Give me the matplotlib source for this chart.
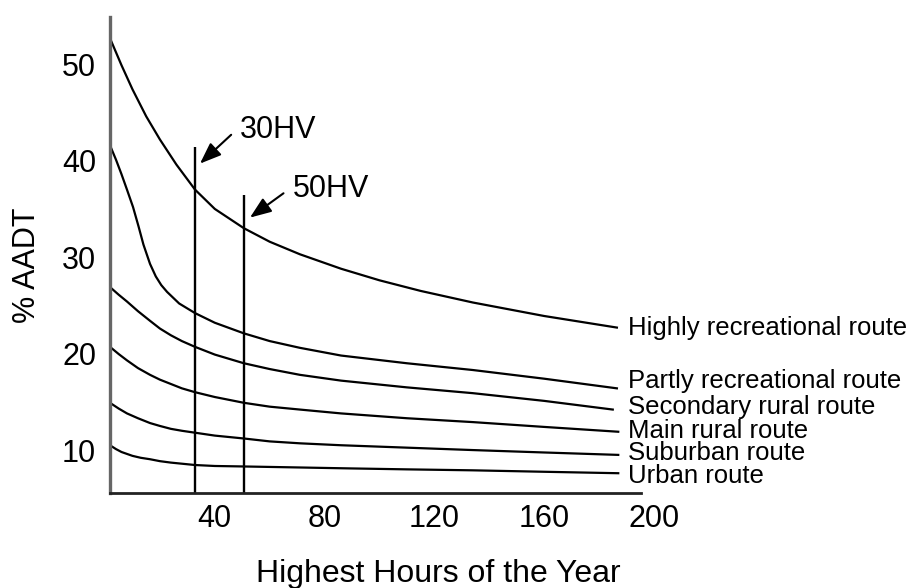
import matplotlib
matplotlib.use("Agg")
import matplotlib.pyplot as plt

plt.rcParams['font.family'] = ['Liberation Sans', 'DejaVu Sans']

## curves (hours, % AADT)
highly_x = [1.8, 6, 10, 15, 20, 26, 32.8, 40, 50.6, 60, 71, 86, 100, 115, 134, 160, 186.5]
highly_y = [52.7, 49.9, 47.4, 44.6, 42.2, 39.6, 37.0, 35.0, 33.0, 31.6, 30.3, 28.8, 27.6, 26.5, 25.3, 23.9, 22.7]

partly_x = [1.8, 4, 6, 8, 10.2, 12.2, 14, 16.4, 18.5, 20.5, 22.6, 27, 32.8, 40, 50.6, 60, 71, 86, 110, 134, 160, 186.5]
partly_y = [41.6, 40.1, 38.6, 37.0, 35.2, 33.2, 31.3, 29.3, 28.0, 27.1, 26.4, 25.2, 24.2, 23.2, 22.1, 21.3, 20.6, 19.8, 19.0, 18.3, 17.4, 16.4]

second_x = [1.8, 5, 8, 12, 16.4, 20, 24, 28, 32.8, 40, 50.6, 60, 71, 86, 110, 134, 160, 185]
second_y = [26.9, 26.1, 25.4, 24.4, 23.4, 22.6, 21.9, 21.3, 20.7, 19.9, 19.0, 18.4, 17.8, 17.2, 16.5, 15.9, 15.1, 14.2]

main_x = [1.8, 5, 8, 12, 16.4, 20, 24, 28, 32.8, 40, 50.6, 60, 71, 86, 110, 134, 160, 187]
main_y = [20.7, 19.95, 19.3, 18.5, 17.8, 17.3, 16.85, 16.4, 16.0, 15.5, 14.9, 14.5, 14.2, 13.8, 13.3, 12.9, 12.4, 11.9]

suburban_x = [1.8, 5, 8, 12, 16.4, 20, 24, 28, 32.8, 40, 50.6, 60, 71, 86, 110, 134, 160, 187]
suburban_y = [14.9, 14.3, 13.8, 13.3, 12.8, 12.5, 12.2, 12.0, 11.8, 11.5, 11.2, 10.9, 10.7, 10.5, 10.25, 10.0, 9.75, 9.5]

urban_x = [1.8, 4, 6, 8, 10, 13, 16.4, 20, 24, 32.8, 40, 50.6, 70, 89, 110, 134, 160, 187]
urban_y = [10.5, 10.1, 9.8, 9.6, 9.4, 9.2, 9.05, 8.85, 8.7, 8.45, 8.35, 8.3, 8.2, 8.1, 8.0, 7.9, 7.75, 7.6]

route_names = ["Highly recreational route", "Partly recreational route",
               "Secondary rural route", "Main rural route",
               "Suburban route", "Urban route"]
route_label_y = [21.9, 16.4, 13.7, 11.3, 8.96, 6.58]

hv_hours = [32.8, 50.6]
hv_top = [41.4, 36.4]
hv_names = ["30HV", "50HV"]
hv_tip = [(34.6, 39.7), (52.8, 34.1)]
hv_text = [(49.2, 42.4), (68.5, 36.2)]

x_ticks = [40, 80, 120, 160, 200]
y_ticks = [10, 20, 30, 40, 50]

fig = plt.figure(figsize=(9.21, 5.88), dpi=100)
ax = fig.add_axes([0.1194, 0.1624, 0.713 - 0.1194, 0.9711 - 0.1624])

for xs, ys in [(highly_x, highly_y), (partly_x, partly_y), (second_x, second_y),
               (main_x, main_y), (suburban_x, suburban_y), (urban_x, urban_y)]:
    ax.plot(xs, ys, color='black', lw=1.6, solid_joinstyle='round')

ax.set_xlim(1.8, 201)
ax.set_ylim(5.6, 54.9)

## design hour lines
ax.vlines(hv_hours, 5.6, hv_top, color='black', lw=1.7)
for name, tip, txt in zip(hv_names, hv_tip, hv_text):
    ax.annotate(name, xy=tip, xytext=txt, fontsize=22, ha='left', va='baseline',
                arrowprops=dict(arrowstyle='-|>,head_length=1.3,head_width=0.5',
                                color='black', lw=1.5, mutation_scale=10,
                                relpos=(0, 0.6), shrinkA=6, shrinkB=0))

## route labels
for name, yl in zip(route_names, route_label_y):
    ax.text(190.5, yl, name, fontsize=18.5, ha='left', va='baseline', clip_on=False)

ax.spines['top'].set_visible(False)
ax.spines['right'].set_visible(False)
ax.spines['left'].set_color('#666666')
ax.spines['left'].set_linewidth(2.4)
ax.spines['bottom'].set_color('#222222')
ax.spines['bottom'].set_linewidth(2.0)
ax.spines['bottom'].set_bounds(1.8, 195.3)

ax.set_xticks(x_ticks)
ax.set_yticks(y_ticks)
ax.tick_params(axis='x', length=0, pad=8, labelsize=22)
ax.tick_params(axis='y', length=0, pad=10, labelsize=22)

fig.text(438 / 921, 1 - 582 / 588, "Highest Hours of the Year", fontsize=23,
         ha='center', va='baseline')
fig.text(27 / 921, 1 - 265 / 588, "% AADT", fontsize=22, rotation=90,
         ha='center', va='center')

fig.savefig("out.png", dpi=100)
